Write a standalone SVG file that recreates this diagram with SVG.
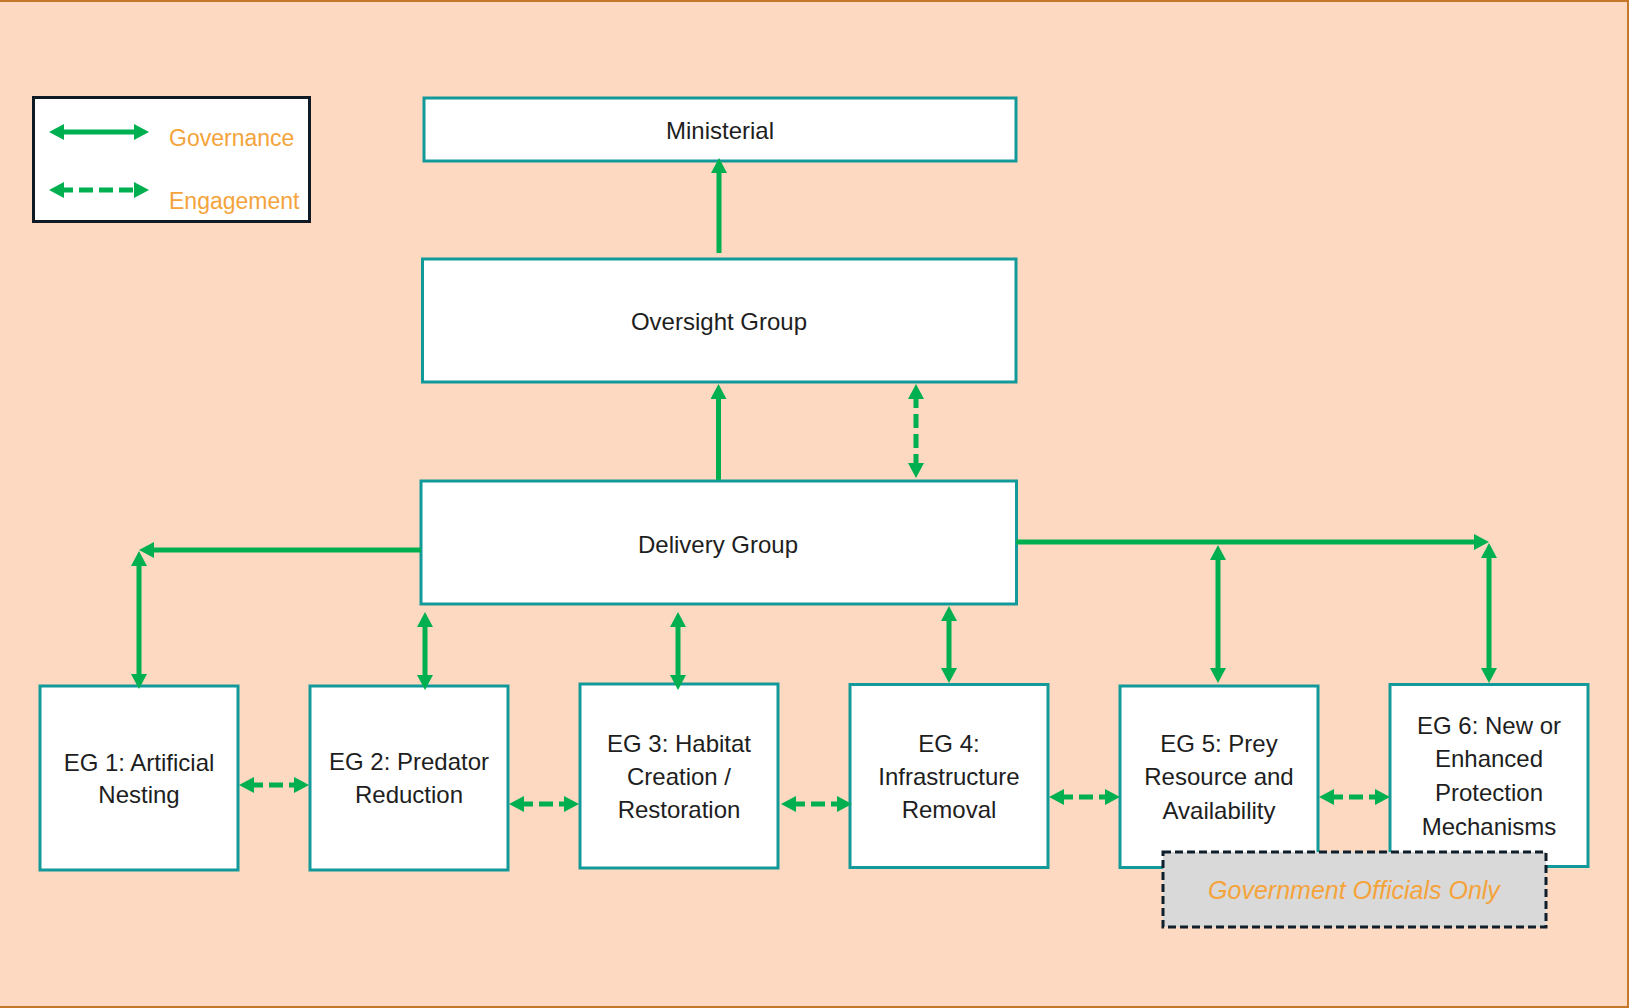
<svg xmlns="http://www.w3.org/2000/svg" width="1629" height="1008" viewBox="0 0 1629 1008">
<defs>
<marker id="ah" viewBox="0 0 15 16" refX="5" refY="8" markerWidth="15" markerHeight="16" markerUnits="userSpaceOnUse" orient="auto-start-reverse">
<path d="M0,0 L15,8 L0,16 z" fill="#00b050"/>
</marker>
<style>
.box{fill:#ffffff;stroke:#12999a;stroke-width:3}
.t{font-family:"Liberation Sans",Arial,sans-serif;font-size:24px;fill:#1e1e1e;text-anchor:middle}
.lg{font-family:"Liberation Sans",Arial,sans-serif;font-size:23px;fill:#f5a33b}
.sol{stroke:#00b050;stroke-width:5;fill:none}
.dash{stroke:#00b050;stroke-width:5;fill:none;stroke-dasharray:14 6}
</style>
</defs>
<rect x="0" y="0" width="1629" height="1008" fill="#fcd9c0"/>
<path d="M0,1 H1628 V1007 H0" fill="none" stroke="#c5782c" stroke-width="2"/>

<g id="legend">
<rect x="33.5" y="97.5" width="276" height="124" fill="#ffffff" stroke="#0f1a24" stroke-width="3"/>
<line class="sol" x1="59" y1="132" x2="139" y2="132" marker-start="url(#ah)" marker-end="url(#ah)"/>
<line class="dash" x1="59" y1="190" x2="139" y2="190" marker-start="url(#ah)" marker-end="url(#ah)"/>
<text class="lg" x="169" y="146">Governance</text>
<text class="lg" x="169" y="209">Engagement</text>
</g>

<g id="ministerial">
<rect class="box" x="424" y="98" width="592" height="63"/>
<text class="t" x="720" y="139">Ministerial</text>
</g>
<g id="oversight">
<rect class="box" x="422.5" y="259" width="593.5" height="123"/>
<text class="t" x="719" y="330">Oversight Group</text>
</g>
<g id="delivery">
<rect class="box" x="421" y="481" width="595.5" height="123"/>
<text class="t" x="718" y="553">Delivery Group</text>
</g>
<g id="eg1">
<rect class="box" x="40" y="686" width="198" height="184"/>
<text class="t" x="139" y="771">EG 1: Artificial</text>
<text class="t" x="139" y="803">Nesting</text>
</g>
<g id="eg2">
<rect class="box" x="310" y="686" width="198" height="184"/>
<text class="t" x="409" y="770">EG 2: Predator</text>
<text class="t" x="409" y="803">Reduction</text>
</g>
<g id="eg3">
<rect class="box" x="580" y="684" width="198" height="184"/>
<text class="t" x="679" y="752">EG 3: Habitat</text>
<text class="t" x="679" y="785">Creation /</text>
<text class="t" x="679" y="818">Restoration</text>
</g>
<g id="eg4">
<rect class="box" x="850" y="684.5" width="198" height="183"/>
<text class="t" x="949" y="752">EG 4:</text>
<text class="t" x="949" y="785">Infrastructure</text>
<text class="t" x="949" y="818">Removal</text>
</g>
<g id="eg5">
<rect class="box" x="1120" y="686" width="198" height="181.5"/>
<text class="t" x="1219" y="752">EG 5: Prey</text>
<text class="t" x="1219" y="785">Resource and</text>
<text class="t" x="1219" y="819">Availability</text>
</g>
<g id="eg6">
<rect class="box" x="1390" y="684.5" width="198" height="182"/>
<text class="t" x="1489" y="734">EG 6: New or</text>
<text class="t" x="1489" y="767">Enhanced</text>
<text class="t" x="1489" y="801">Protection</text>
<text class="t" x="1489" y="835">Mechanisms</text>
</g>

<g id="connectors">
<line class="sol" x1="719" y1="253" x2="719" y2="168" marker-end="url(#ah)"/>
<line class="sol" x1="718.5" y1="480" x2="718.5" y2="394" marker-end="url(#ah)"/>
<line class="dash" x1="916" y1="394" x2="916" y2="468" marker-start="url(#ah)" marker-end="url(#ah)"/>
<line class="sol" x1="421" y1="550" x2="149" y2="550" marker-end="url(#ah)"/>
<line class="sol" x1="139" y1="561" x2="139" y2="679" marker-start="url(#ah)" marker-end="url(#ah)"/>
<line class="sol" x1="425" y1="622" x2="425" y2="680" marker-start="url(#ah)" marker-end="url(#ah)"/>
<line class="sol" x1="678" y1="622" x2="678" y2="680" marker-start="url(#ah)" marker-end="url(#ah)"/>
<line class="sol" x1="949" y1="616" x2="949" y2="673" marker-start="url(#ah)" marker-end="url(#ah)"/>
<line class="sol" x1="1016" y1="542" x2="1479" y2="542" marker-end="url(#ah)"/>
<line class="sol" x1="1218" y1="555" x2="1218" y2="673" marker-start="url(#ah)" marker-end="url(#ah)"/>
<line class="sol" x1="1489" y1="553" x2="1489" y2="673" marker-start="url(#ah)" marker-end="url(#ah)"/>
<line class="dash" x1="249" y1="785" x2="299" y2="785" marker-start="url(#ah)" marker-end="url(#ah)"/>
<line class="dash" x1="519" y1="804" x2="569" y2="804" marker-start="url(#ah)" marker-end="url(#ah)"/>
<line class="dash" x1="791" y1="804" x2="842" y2="804" marker-start="url(#ah)" marker-end="url(#ah)"/>
<line class="dash" x1="1059" y1="797" x2="1110" y2="797" marker-start="url(#ah)" marker-end="url(#ah)"/>
<line class="dash" x1="1329" y1="797" x2="1380" y2="797" marker-start="url(#ah)" marker-end="url(#ah)"/>
</g>

<g id="gov-officials">
<rect x="1163" y="852" width="383" height="75" fill="#d9d9d9" stroke="#0f1f2c" stroke-width="3" stroke-dasharray="8 4"/>
<text x="1354" y="899" font-family="'Liberation Sans',Arial,sans-serif" font-size="25" font-style="italic" fill="#f5a33b" text-anchor="middle">Government Officials Only</text>
</g>
</svg>
